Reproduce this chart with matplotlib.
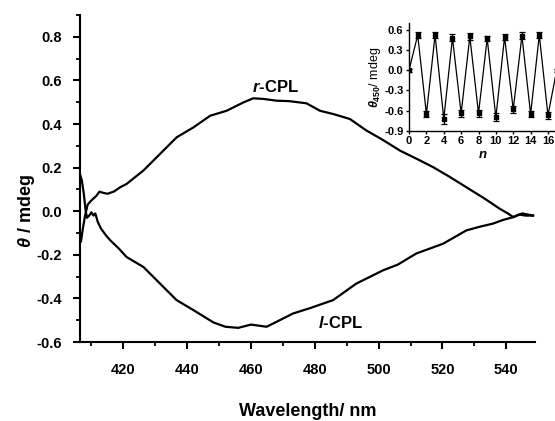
import matplotlib
matplotlib.use("Agg")
import matplotlib.pyplot as plt
from matplotlib.ticker import MultipleLocator

plt.rcParams['font.family'] = ['Liberation Sans', 'DejaVu Sans']
plt.rcParams['font.weight'] = 'bold'
plt.rcParams['mathtext.fontset'] = 'custom'
plt.rcParams['mathtext.it'] = 'Liberation Sans:italic:bold'
plt.rcParams['mathtext.rm'] = 'Liberation Sans:bold'
plt.rcParams['mathtext.bf'] = 'Liberation Sans:bold'

# ---- main spectra ----
wl_r = [406.4, 406.7, 407.3, 408.0, 408.8, 410.0, 411.5, 412.5, 413.5, 415.0, 417.0, 419.0,
        421.0, 426.3, 431.5, 436.7, 442.0, 447.2, 452.4, 457.6, 460.7, 464.0, 468.0,
        472.0, 477.4, 481.6, 486.0, 491.0, 496.2, 501.0, 506.7, 512.0, 517.1, 522.0,
        527.5, 533.0, 538.0, 540.5, 542.2, 544.0, 546.0, 548.4]
r_cpl = [-0.10, -0.14, -0.08, -0.02, 0.03, 0.05, 0.07, 0.09, 0.085, 0.08, 0.09, 0.11,
         0.125, 0.187, 0.263, 0.339, 0.385, 0.438, 0.461, 0.499, 0.518, 0.515, 0.507,
         0.505, 0.495, 0.461, 0.445, 0.423, 0.37, 0.33, 0.278, 0.24, 0.202, 0.16,
         0.11, 0.06, 0.011, -0.01, -0.027, -0.015, -0.02, -0.02]

wl_l = [406.4, 407.0, 407.6, 408.2, 408.6, 409.3, 410.0, 410.6, 411.2, 412.0, 413.0,
        414.5, 416.0, 418.5, 421.0, 426.3, 431.5, 436.7, 442.0, 448.2, 452.0, 456.0,
        460.0, 464.9, 469.0, 473.2, 478.4, 485.7, 493.0, 501.4, 506.0, 511.8, 520.2,
        527.5, 532.0, 535.8, 539.0, 542.2, 545.0, 548.4]
l_cpl = [0.17, 0.14, 0.08, 0.0, -0.03, -0.02, -0.005, -0.02, -0.01, -0.05, -0.08,
         -0.11, -0.135, -0.17, -0.21, -0.256, -0.332, -0.408, -0.454, -0.51, -0.53, -0.535,
         -0.52, -0.53, -0.50, -0.469, -0.445, -0.408, -0.332, -0.271, -0.245, -0.194, -0.149,
         -0.088, -0.07, -0.057, -0.04, -0.027, -0.01, -0.02]

# ---- inset data ----
n_cycle = list(range(18))
theta450 = [0.0, 0.52, -0.65, 0.52, -0.72, 0.48, -0.64, 0.50, -0.64, 0.47, -0.70,
            0.49, -0.58, 0.51, -0.65, 0.52, -0.67, 0.0]
theta450_err = [0.02, 0.05, 0.05, 0.05, 0.07, 0.05, 0.05, 0.05, 0.05, 0.04, 0.06,
                0.05, 0.05, 0.05, 0.05, 0.05, 0.05, 0.02]

fig = plt.figure(figsize=(5.55, 4.21), dpi=100)
ax = fig.add_axes([0.1441, 0.1876, 0.8198, 0.7767])
ax.plot(wl_r, r_cpl, color='black', lw=1.6)
ax.plot(wl_l, l_cpl, color='black', lw=1.6)
ax.set_xlim(406.4, 549)
ax.set_ylim(-0.6, 0.9)
ax.xaxis.set_major_locator(MultipleLocator(20))
ax.xaxis.set_minor_locator(MultipleLocator(10))
ax.yaxis.set_minor_locator(MultipleLocator(0.1))
ax.set_yticks([-0.6, -0.4, -0.2, 0.0, 0.2, 0.4, 0.6, 0.8])
ax.set_yticklabels(['-0.6', '-0.4', '-0.2', '0.0', '0.2', '0.4', '0.6', '0.8'])
for s in ['top', 'right']:
    ax.spines[s].set_visible(False)
for s in ['left', 'bottom']:
    ax.spines[s].set_linewidth(1.5)
ax.tick_params(which='major', direction='out', length=5, width=1.5, labelsize=10.5, pad=8)
ax.tick_params(axis='x', which='major', pad=10)
ax.tick_params(which='minor', direction='out', length=3, width=1.3)
for lab in ax.get_xticklabels() + ax.get_yticklabels():
    lab.set_fontweight('bold')
ax.set_xlabel('Wavelength/ nm', fontsize=13, fontweight='bold')
ax.xaxis.set_label_coords(0.5, -0.185)
ax.set_ylabel(r'$\theta$ / mdeg', fontsize=13, fontweight='bold')
ax.yaxis.set_label_coords(-0.095, 0.40)
ax.text(467.8, 0.571, r'$r$-CPL', fontsize=12, fontweight='bold', ha='center', va='center')
ax.text(488.0, -0.513, r'$l$-CPL', fontsize=12, fontweight='bold', ha='center', va='center')

# ---- inset ----
ins = fig.add_axes([0.737, 0.689, 0.266, 0.2565])
ins.errorbar(n_cycle, theta450, yerr=theta450_err, color='black', lw=0.9,
             marker='s', ms=3, elinewidth=0.9, capsize=2, capthick=0.9)
ins.set_xlim(0, 17)
ins.set_ylim(-0.9, 0.7)
ins.set_xticks(list(range(0, 17, 2)))
ins.set_yticks([-0.9, -0.6, -0.3, 0.0, 0.3, 0.6])
ins.set_yticklabels(['-0.9', '-0.6', '-0.3', '0.0', '0.3', '0.6'])
for s in ['top', 'right']:
    ins.spines[s].set_visible(False)
for s in ['left', 'bottom']:
    ins.spines[s].set_linewidth(1.0)
ins.tick_params(which='major', direction='out', length=2.5, width=1.0, labelsize=8, pad=1.5)
for lab in ins.get_xticklabels() + ins.get_yticklabels():
    lab.set_fontweight('bold')
ins.set_xlabel(r'$n$', fontsize=9.5, labelpad=1.5)
ins.set_ylabel(r'$\theta_{450}$/ mdeg', fontsize=9, labelpad=1)
ins.patch.set_alpha(0)

fig.savefig('out.png', dpi=100)
